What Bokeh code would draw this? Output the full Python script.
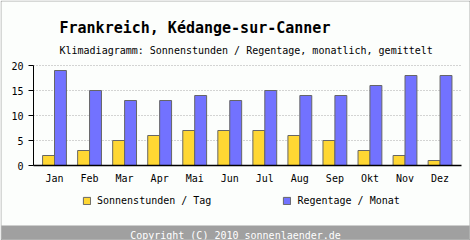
from bokeh.plotting import figure
from bokeh.models import (Range1d, Label, Legend, LegendItem, FixedTicker,
                          BoxAnnotation, ColumnDataSource)
from bokeh.transform import dodge
from bokeh.embed import file_html
from bokeh.resources import INLINE

months = ["Jan", "Feb", "Mar", "Apr", "Mai", "Jun", "Jul", "Aug", "Sep", "Okt", "Nov", "Dez"]
sonnenstunden = [2, 3, 5, 6, 7, 7, 7, 6, 5, 3, 2, 1]
regentage = [19, 15, 13, 13, 14, 13, 15, 14, 14, 16, 18, 18]
y_ticks = [0, 5, 10, 15, 20]

title_text = "Frankreich, Kédange-sur-Canner"
subtitle_text = "Klimadiagramm: Sonnenstunden / Regentage, monatlich, gemittelt"
legend_labels = ["Sonnenstunden / Tag", "Regentage / Monat"]
footer_text = "Copyright (C) 2010 sonnenlaender.de"

FONT = "DejaVu Sans Mono"
BG = "#fcfefc"

idx = list(range(len(months)))
src = ColumnDataSource(dict(idx=idx, sun=sonnenstunden, rain=regentage))

# frame covers the whole canvas; axes are fixed inside it
W, H = 470, 240
CAT = 35.05            # px per month
X0 = 54.0              # px of first month centre
x_start = -X0 / CAT
x_end = x_start + W / CAT
PXU = 5.0              # px per y unit
Y0 = 165.0             # px (from top) of y=0
y_start = -(H - Y0) / PXU
y_end = Y0 / PXU
ax_left = (33 - X0) / CAT
ax_right = (461 - X0) / CAT

p = figure(width=W, height=H, output_backend="svg", toolbar_location=None,
           x_range=Range1d(x_start, x_end), y_range=Range1d(y_start, y_end),
           min_border=0, min_border_left=0, min_border_right=0,
           min_border_top=0, min_border_bottom=0)
p.background_fill_color = BG
p.border_fill_color = BG
p.outline_line_color = None

r1 = p.vbar(x=dodge("idx", -0.17), top="sun", width=0.34, source=src,
            fill_color="#ffd733", line_color="#666666", line_width=1)
r2 = p.vbar(x=dodge("idx", 0.17), top="rain", width=0.34, source=src,
            fill_color="#7272ff", line_color="#666666", line_width=1)

xa = p.xaxis[0]
ya = p.yaxis[0]
xa.fixed_location = 0
ya.fixed_location = ax_left
xa.bounds = (ax_left, ax_right)
ya.bounds = (0, 20)
xa.ticker = FixedTicker(ticks=idx)
xa.major_label_overrides = {i: m for i, m in zip(idx, months)}
ya.ticker = FixedTicker(ticks=y_ticks)
xa.minor_tick_line_color = None
ya.minor_tick_line_color = None
ya.major_tick_in = 0
ya.major_tick_out = 5
ya.axis_line_color = "black"
ya.major_tick_line_color = "black"
xa.major_tick_line_color = None
xa.major_tick_out = 0
xa.major_tick_in = 0
xa.axis_line_color = "black"
xa.axis_line_width = 1.5
xa.major_label_standoff = 7
ya.major_label_standoff = 5
for ax in (xa, ya):
    ax.major_label_text_font = FONT
    ax.major_label_text_font_size = "10px"
    ax.major_label_text_color = "black"

p.xgrid.grid_line_color = None
p.ygrid.grid_line_color = "#aaaaaa"
p.ygrid.grid_line_dash = "1 2"
p.ygrid.ticker = FixedTicker(ticks=y_ticks[1:])
p.ygrid.cross_bounds = (ax_left, ax_right)

legend = Legend(items=[LegendItem(label=legend_labels[0], renderers=[r1]),
                       LegendItem(label=legend_labels[1], renderers=[r2])],
                location=(82, 34), orientation="horizontal",
                glyph_width=9, glyph_height=9, label_height=9, label_standoff=6,
                spacing=71, padding=0, margin=0, border_line_color=None,
                background_fill_alpha=0, label_text_font=FONT,
                label_text_font_size="10px", label_text_color="black")
p.add_layout(legend, "center")

# screen units: from the frame's (= canvas's) bottom-left corner
p.add_layout(Label(x=59, y=213, x_units="screen", y_units="screen", text=title_text,
                   text_font=FONT, text_font_size="15px", text_font_style="bold",
                   text_color="black", text_baseline="alphabetic"))
p.add_layout(Label(x=59, y=190, x_units="screen", y_units="screen", text=subtitle_text,
                   text_font=FONT, text_font_size="10px", text_color="black",
                   text_baseline="alphabetic"))

p.add_layout(BoxAnnotation(left=1, right=469, bottom=1, top=15, left_units="screen",
                           right_units="screen", bottom_units="screen", top_units="screen",
                           fill_color="#a0a0a0", fill_alpha=1, line_color=None))
p.add_layout(Label(x=235, y=5, x_units="screen", y_units="screen", text=footer_text,
                   text_font=FONT, text_font_size="10px", text_color="white",
                   text_align="center", text_baseline="alphabetic"))
p.add_layout(BoxAnnotation(left=0.5, right=469.5, bottom=0.5, top=239.5, left_units="screen",
                           right_units="screen", bottom_units="screen", top_units="screen",
                           fill_alpha=0, line_color="black", line_width=1))

open("out.html", "w").write(file_html(p, INLINE))
